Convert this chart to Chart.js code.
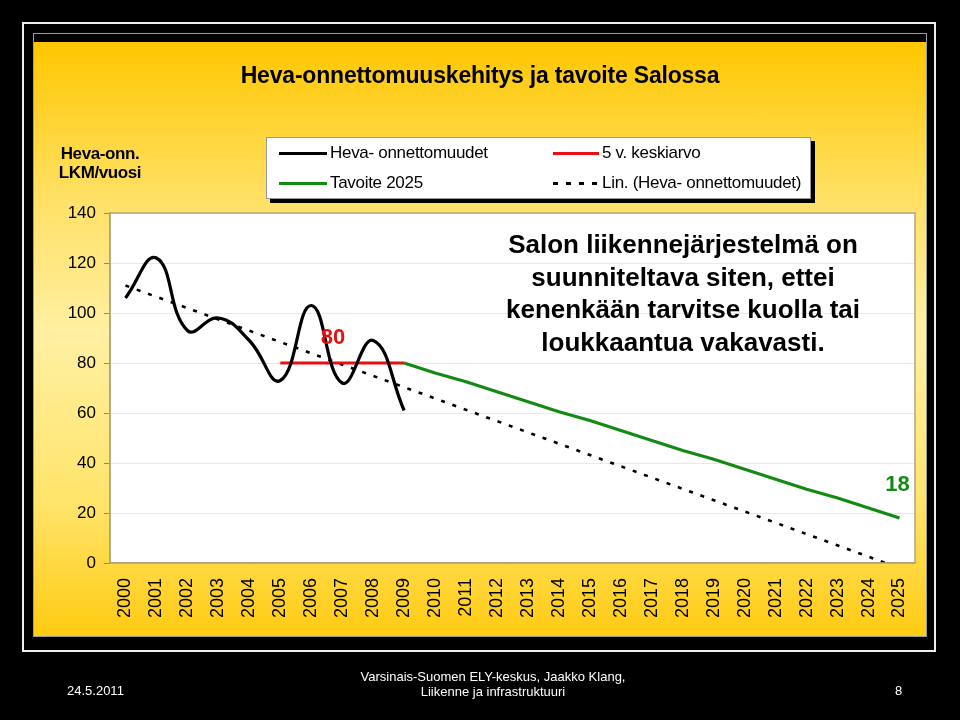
<!DOCTYPE html>
<html>
<head>
<meta charset="utf-8">
<script src="https://cdn.jsdelivr.net/npm/chart.js@4/dist/chart.umd.min.js"></script>
<style>
  html, body { margin: 0; padding: 0; background: #000; }
  body { width: 960px; height: 720px; position: relative; overflow: hidden; font-family: 'Liberation Sans', Arial, sans-serif; }
  .frame { position: absolute; left: 22px; top: 22px; width: 914px; height: 630px; border: 2px solid #eee; box-sizing: border-box; }
  .panel { position: absolute; left: 33px; top: 33px; width: 894px; height: 604px; border: 1px solid #9a9a9a; box-sizing: border-box;
    background: linear-gradient(to bottom, #000 0px, #000 8px, #FFC700 8px, #FFE168 28%, #FFF0A2 50%, #FFE46a 78%, #FFCB12 100%); }
  #c { position: absolute; left: 0; top: 0; z-index: 1; }
  .txt { position: absolute; z-index: 2; color: #000; }
  .title { left: 0; width: 960px; top: 62px; text-align: center; font-weight: bold; font-size: 23px; letter-spacing: -0.2px; }
  .ytitle { left: 50px; width: 100px; top: 144px; text-align: center; font-weight: bold; font-size: 17px; line-height: 19px; letter-spacing: -0.4px; }
  .callout { left: 443px; width: 480px; top: 228px; text-align: center; font-weight: bold; font-size: 26px; line-height: 32.5px; }
  .legend { position: absolute; z-index: 2; left: 266px; top: 137px; width: 545px; height: 62px; background: #fff; border: 1px solid #999; box-sizing: border-box; box-shadow: 4px 4px 0 #000; }
  .li { position: absolute; font-size: 17px; line-height: 18px; letter-spacing: -0.3px; }
  .sw { position: absolute; height: 3px; }
  .foot { position: absolute; z-index: 2; color: #fff; font-size: 13px; line-height: 15px; }
</style>
</head>
<body>
<div class="frame"></div>
<div class="panel"></div>
<canvas id="c" width="960" height="720"></canvas>

<div class="txt title">Heva-onnettomuuskehitys ja tavoite Salossa</div>
<div class="txt ytitle">Heva-onn.<br>LKM/vuosi</div>
<div class="txt callout">Salon liikennejärjestelmä on<br>suunniteltava siten, ettei<br>kenenkään tarvitse kuolla tai<br>loukkaantua vakavasti.</div>

<div class="legend">
  <div class="sw" style="left:12px; top:14px; width:48px; background:#000;"></div>
  <div class="li" style="left:63px; top:6px;">Heva- onnettomuudet</div>
  <div class="sw" style="left:12px; top:44px; width:48px; background:#138a13;"></div>
  <div class="li" style="left:63px; top:36px;">Tavoite 2025</div>
  <div class="sw" style="left:286px; top:14px; width:46px; background:#e81010;"></div>
  <div class="li" style="left:335px; top:6px;">5 v. keskiarvo</div>
  <div class="sw" style="left:286px; top:44px; width:45px; background:repeating-linear-gradient(to right, #000 0 5px, transparent 5px 13px);"></div>
  <div class="li" style="left:335px; top:36px;">Lin. (Heva- onnettomuudet)</div>
</div>

<div class="foot" style="left:67px; top:683px;">24.5.2011</div>
<div class="foot" style="left:293px; width:400px; top:669px; text-align:center;">Varsinais-Suomen ELY-keskus, Jaakko Klang,<br>Liikenne ja infrastruktuuri</div>
<div class="foot" style="left:895px; top:683px;">8</div>

<script>
// vuodet
const vuodet = ['2000','2001','2002','2003','2004','2005','2006','2007','2008','2009','2010','2011','2012',
  '2013','2014','2015','2016','2017','2018','2019','2020','2021','2022','2023','2024','2025']

// Heva-onnettomuudet 2000-2009
const hevaOnn = [106, 122, 93, 98, 89, 73, 103, 72, 89, 61,
  null, null, null, null, null, null, null, null, null, null, null, null, null, null, null, null]

// 5 v. keskiarvo 2005-2009
const keskiarvo = [null, null, null, null, null, 80, 80, 80, 80, 80,
  null, null, null, null, null, null, null, null, null, null, null, null, null, null, null, null]

// Tavoite 2025
const tavoite = [null, null, null, null, null, null, null, null, null, 80,
  76, 72.5, 68.5, 64.5, 60.5, 57, 53, 49, 45, 41.5, 37.5, 33.5, 29.5, 26, 22, 18]

// Lin. trendi (alku- ja loppupiste luettu kuvasta)
const trendi = [111, null, null, null, null, null, null, null, null, null, null, null, null,
  null, null, null, null, null, null, null, null, null, null, null, null, -2]

const yTicks = [0, 20, 40, 60, 80, 100, 120, 140]

const fontti = "'Liberation Sans', Arial, sans-serif"

const taustaPlugin = {
  id: 'tausta',
  beforeDraw(chart) {
    const { ctx, chartArea: a } = chart
    ctx.save()
    ctx.fillStyle = '#fff'
    ctx.fillRect(a.left, a.top, a.right - a.left, a.bottom - a.top)
    ctx.restore()
  },
  afterDatasetsDraw(chart) {
    const { ctx, chartArea: a, scales } = chart
    ctx.save()
    ctx.strokeStyle = '#b3a679'
    ctx.lineWidth = 1.5
    ctx.strokeRect(a.left, a.top, a.right - a.left, a.bottom - a.top)
    // arvotunnisteet
    ctx.font = 'bold 22px ' + fontti
    ctx.textAlign = 'center'
    ctx.textBaseline = 'middle'
    ctx.fillStyle = '#e81010'
    ctx.fillText('80', scales.x.getPixelForValue(6.7), scales.y.getPixelForValue(keskiarvo[7]) - 25)
    ctx.fillStyle = '#138a13'
    ctx.fillText('18', scales.x.getPixelForValue(25) - 2, scales.y.getPixelForValue(tavoite[25]) - 33)
    ctx.restore()
  }
}

new Chart(document.querySelector('#c'), {
  type: 'line',
  data: {
    labels: vuodet,
    datasets: [
      { label: 'Heva- onnettomuudet', data: hevaOnn, borderColor: '#000', borderWidth: 3.2, tension: 0.45, pointRadius: 0, fill: false, order: 1 },
      { label: 'Tavoite 2025', data: tavoite, borderColor: '#138a13', borderWidth: 3.2, tension: 0, pointRadius: 0, fill: false, order: 3 },
      { label: '5 v. keskiarvo', data: keskiarvo, borderColor: '#e81010', borderWidth: 3.2, tension: 0, pointRadius: 0, fill: false, order: 2 },
      { label: 'Lin. (Heva- onnettomuudet)', data: trendi, borderColor: '#000', borderWidth: 2.6, borderDash: [4, 8], spanGaps: true, tension: 0, pointRadius: 0, fill: false, order: 4 }
    ]
  },
  options: {
    responsive: false,
    animation: false,
    layout: { padding: { left: 0, right: 45, top: 213, bottom: 87 } },
    plugins: { legend: { display: false }, tooltip: { enabled: false } },
    scales: {
      x: {
        offset: true,
        grid: { display: false, drawTicks: false },
        border: { color: '#a89a6a', width: 1.5 },
        ticks: { color: '#000', font: { family: fontti, size: 18 }, minRotation: 90, maxRotation: 90, padding: 15, autoSkip: false },
        afterFit(s) { s.height = 70 }
      },
      y: {
        min: 0, max: 140,
        afterBuildTicks(s) { s.ticks = yTicks.map(v => ({ value: v })) },
        grid: { color: '#e8e8e8', lineWidth: 1, tickLength: 6, tickColor: '#8a8a8a' },
        border: { color: '#a89a6a', width: 1.5 },
        ticks: { color: '#000', font: { family: fontti, size: 17 }, padding: 8 },
        afterFit(s) { s.width = 110 }
      }
    }
  },
  plugins: [taustaPlugin]
})
</script>
</body>
</html>
